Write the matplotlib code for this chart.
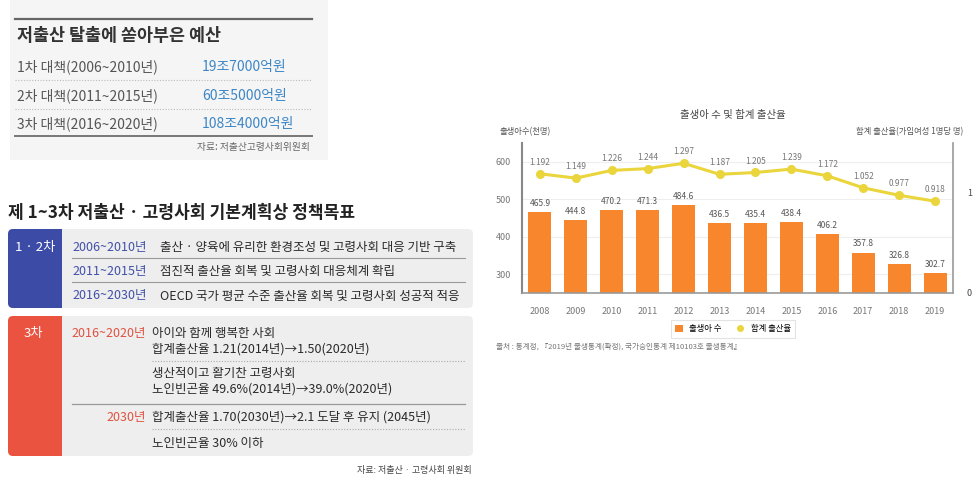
import matplotlib
matplotlib.use("Agg")
import matplotlib.pyplot as plt
from matplotlib.patches import FancyBboxPatch, Rectangle, Patch
from matplotlib.lines import Line2D

plt.rcParams["font.family"] = ["Noto Sans CJK KR", "DejaVu Sans"]

# chart data
years = ["2008", "2009", "2010", "2011", "2012", "2013",
         "2014", "2015", "2016", "2017", "2018", "2019"]
births = [465.9, 444.8, 470.2, 471.3, 484.6, 436.5,
          435.4, 438.4, 406.2, 357.8, 326.8, 302.7]
tfr = [1.192, 1.149, 1.226, 1.244, 1.297, 1.187,
       1.205, 1.239, 1.172, 1.052, 0.977, 0.918]

# budget table
budget_title = "저출산 탈출에 쏟아부은 예산"
budget_plans = ["1차 대책(2006~2010년)", "2차 대책(2011~2015년)", "3차 대책(2016~2020년)"]
budget_amounts = ["19조7000억원", "60조5000억원", "108조4000억원"]
budget_source = "자료: 저출산고령사회위원회"

# policy goals
goal_title = "제 1~3차 저출산 · 고령사회 기본계획상 정책목표"
early_label = "1 · 2차"
early_years = ["2006~2010년", "2011~2015년", "2016~2030년"]
early_goals = ["출산 · 양육에 유리한 환경조성 및 고령사회 대응 기반 구축",
               "점진적 출산율 회복 및 고령사회 대응체계 확립",
               "OECD 국가 평균 수준 출산율 회복 및 고령사회 성공적 적응"]
third_label = "3차"
third_years = ["2016~2020년", "2030년"]
third_goals = [["아이와 함께 행복한 사회", "합계출산율 1.21(2014년)→1.50(2020년)",
                "생산적이고 활기찬 고령사회", "노인빈곤율 49.6%(2014년)→39.0%(2020년)"],
               ["합계출산율 1.70(2030년)→2.1 도달 후 유지 (2045년)", "노인빈곤율 30% 이하"]]
goal_source = "자료: 저출산 · 고령사회 위원회"

BLUE = "#3c4ba6"
RED = "#e9533f"
PANEL = "#eeeeee"
ORANGE = "#f7862c"
YELLOW = "#ead53c"

W, H = 979, 492
fig = plt.figure(figsize=(W / 100, H / 100), dpi=100)
fig.patch.set_facecolor("white")

bg = fig.add_axes([0, 0, 1, 1])
bg.set_xlim(0, W)
bg.set_ylim(H, 0)
bg.axis("off")

# ---- budget table ----
bg.add_patch(Rectangle((10, 0), 318, 160, facecolor="#f5f5f5", edgecolor="none"))
bg.plot([15, 312], [19, 19], color="#666666", lw=1.6)
bg.text(17, 36, budget_title, fontsize=12.5, fontweight="bold", color="#333333", va="center")
row_y = [67, 96, 124]
for i, (plan, amount) in enumerate(zip(budget_plans, budget_amounts)):
    bg.text(17, row_y[i], plan, fontsize=10, color="#555555", va="center")
    bg.text(202, row_y[i], amount, fontsize=10, color="#3d86c6", va="center")
for y in [80, 109]:
    bg.plot([15, 312], [y, y], color="#bbbbbb", lw=0.8, ls=(0, (1, 1.5)))
bg.plot([15, 312], [136, 136], color="#777777", lw=1.4)
bg.text(310, 147, budget_source, fontsize=7, color="#666666", va="center", ha="right")

# ---- policy goals ----
bg.text(8, 213, goal_title, fontsize=12.3, fontweight="bold", color="#222222", va="center")


def block(y0, y1, color):
    bg.add_patch(FancyBboxPatch((8, y0), 465, y1 - y0, boxstyle="round,pad=0,rounding_size=5",
                                facecolor=PANEL, edgecolor="none"))
    bg.add_patch(FancyBboxPatch((8, y0), 54, y1 - y0, boxstyle="round,pad=0,rounding_size=5",
                                facecolor=color, edgecolor="none"))
    bg.add_patch(Rectangle((50, y0), 12, y1 - y0, facecolor=color, edgecolor="none"))


block(229, 308, BLUE)
bg.text(35, 247, early_label, fontsize=9.5, color="white", va="center", ha="center")
for i, (yr, goal) in enumerate(zip(early_years, early_goals)):
    y = 247 + i * 24.5
    bg.text(72, y, yr, fontsize=9, color="#4150a8", va="center")
    bg.text(160, y, goal, fontsize=9, color="#2a2a2a", va="center")
for y in [258, 282]:
    bg.plot([72, 465], [y, y], color="#999999", lw=0.8)

block(316, 456, RED)
bg.text(33, 333, third_label, fontsize=9.5, color="white", va="center", ha="center")
bg.text(146, 333, third_years[0], fontsize=9, color="#e0513f", va="center", ha="right")
for goal, y in zip(third_goals[0], [333, 349, 373, 389]):
    bg.text(152, y, goal, fontsize=9, color="#2a2a2a", va="center")
bg.plot([152, 465], [361, 361], color="#aaaaaa", lw=0.8, ls=(0, (1, 1.5)))
bg.plot([72, 465], [404, 404], color="#999999", lw=0.9)
bg.text(146, 417, third_years[1], fontsize=9, color="#e0513f", va="center", ha="right")
for goal, y in zip(third_goals[1], [417, 443]):
    bg.text(152, y, goal, fontsize=9, color="#2a2a2a", va="center")
bg.plot([152, 465], [429, 429], color="#aaaaaa", lw=0.8, ls=(0, (1, 1.5)))
bg.text(472, 470, goal_source, fontsize=6.5, color="#444444", va="center", ha="right")

# ---- births / fertility chart ----
x0, x1, yb, yt = 522, 953, 293, 143
ax = fig.add_axes([x0 / W, 1 - yb / H, (x1 - x0) / W, (yb - yt) / H])
ax.set_facecolor("none")
xs = range(len(years))
ax.bar(xs, births, width=0.64, color=ORANGE, zorder=2)
for x, v in zip(xs, births):
    ax.annotate(f"{v:.1f}", (x, v), xytext=(0, 3), textcoords="offset points",
                ha="center", va="bottom", fontsize=6, color="#555555")
ax.set_xlim(-0.5, len(years) - 0.5)
ax.set_ylim(250, 650)
ax.set_yticks([300, 400, 500, 600])
ax.set_xticks(list(xs))
ax.set_xticklabels(years)
ax.tick_params(axis="both", length=0, labelsize=6.5, labelcolor="#777777")
ax.tick_params(axis="y", pad=8)
ax.tick_params(axis="x", pad=10)
ax.grid(axis="y", color="#eeeeee", lw=0.8, zorder=0)
ax.spines["top"].set_visible(False)
ax.spines["right"].set_visible(False)
ax.spines["left"].set_color("#888888")
ax.spines["left"].set_linewidth(1.5)
ax.spines["bottom"].set_color("#999999")
ax.spines["bottom"].set_linewidth(1.2)

ax2 = ax.twinx()
ax2.plot(list(xs), tfr, color=YELLOW, lw=2.2, marker="o", markersize=5.5, zorder=3)
for x, v in zip(xs, tfr):
    ax2.annotate(f"{v:.3f}", (x, v), xytext=(0, 5), textcoords="offset points",
                 ha="center", va="bottom", fontsize=6, color="#777777")
ax2.set_ylim(0, 1.5)
ax2.set_yticks([0, 1])
ax2.tick_params(axis="y", length=0, labelsize=6.5, labelcolor="#444444", pad=10)
ax2.spines["top"].set_visible(False)
ax2.spines["left"].set_visible(False)
ax2.spines["bottom"].set_visible(False)
ax2.spines["right"].set_color("#999999")
ax2.spines["right"].set_linewidth(1.2)

fig.text(733 / W, 1 - 115 / H, "출생아 수 및 합계 출산율", fontsize=7.5, color="#444444",
         ha="center", va="center")
fig.text(500 / W, 1 - 132 / H, "출생아수(천명)", fontsize=6, color="#555555", va="center")
fig.text(963 / W, 1 - 132 / H, "합계 출산율(가임여성 1명당 명)", fontsize=6, color="#555555",
         va="center", ha="right")

handles = [Patch(facecolor=ORANGE, edgecolor="none"),
           Line2D([], [], color=YELLOW, marker="o", ls="none", markersize=4)]
leg = fig.legend(handles, ["출생아 수", "합계 출산율"], loc="center",
                 bbox_to_anchor=(733 / W, 1 - 329 / H), ncol=2, fontsize=6,
                 frameon=True, fancybox=False, edgecolor="#dddddd",
                 handlelength=0.9, handleheight=0.9, columnspacing=1.8,
                 borderpad=0.5, handletextpad=0.8)
leg.get_frame().set_linewidth(0.8)

fig.text(496 / W, 1 - 347 / H, "출처 : 통계청, 『2019년 출생통계(확정), 국가승인통계 제10103호 출생통계』",
         fontsize=5.5, color="#777777", va="center")

fig.savefig("out.png", dpi=100)
